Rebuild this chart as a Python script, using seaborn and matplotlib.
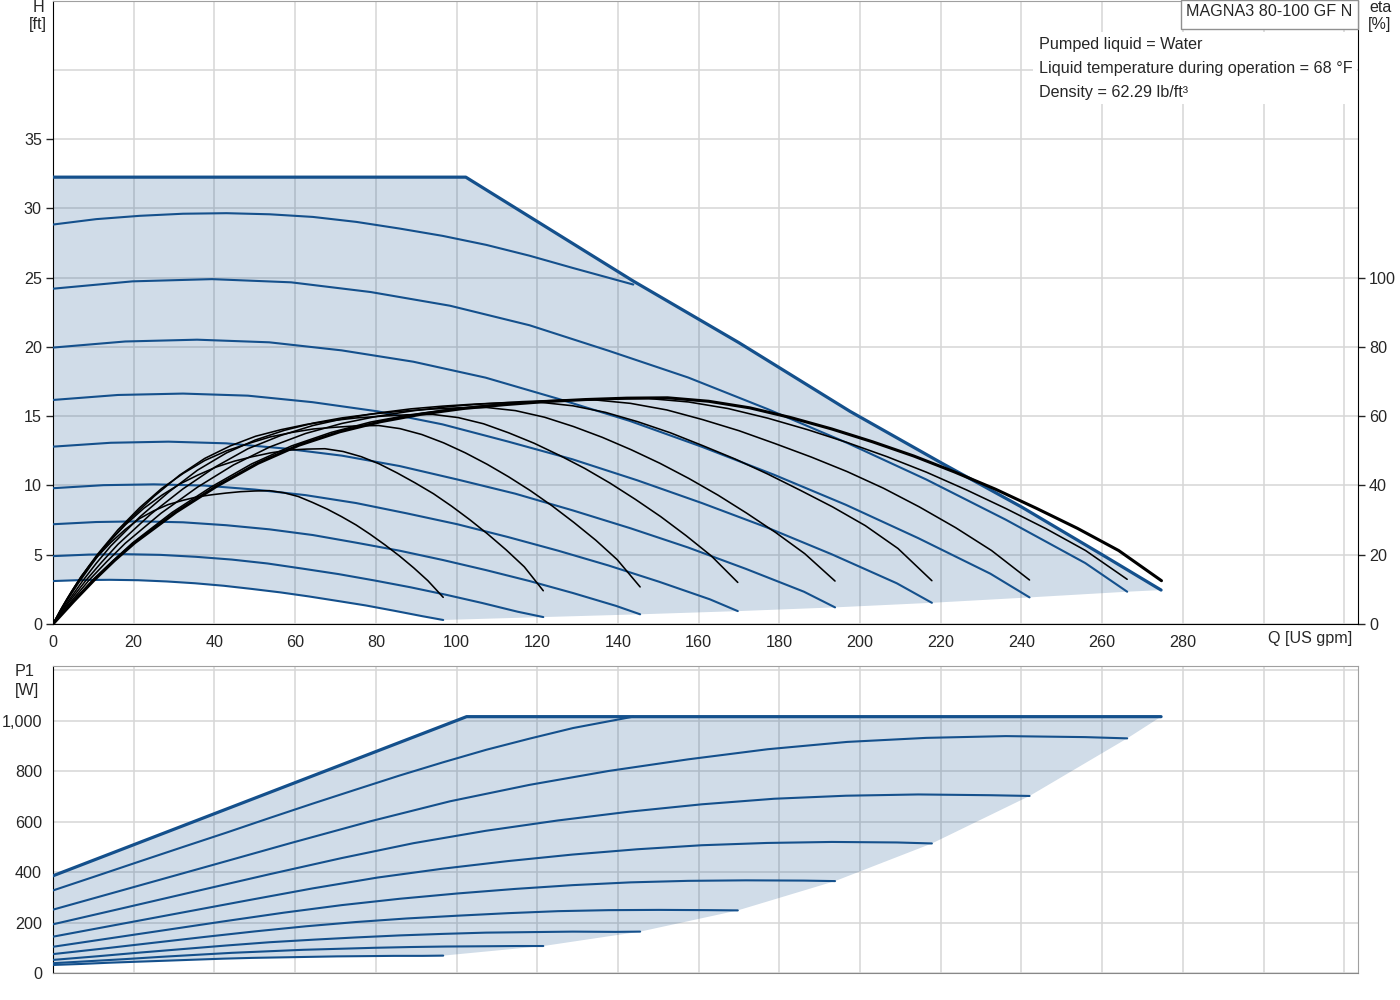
import matplotlib
matplotlib.use("Agg")
import matplotlib.pyplot as plt
from matplotlib.patches import Rectangle
import seaborn as sns

sns.set_style("white")
plt.rcParams["font.family"] = ["Liberation Sans", "DejaVu Sans"]

# ---- data -----------------------------------------------------------------
# speed curves A (highest) .. I (lowest): flow [US gpm], head [ft], power [W]
q_a = [0, 10.7, 21.5, 32.2, 43.0, 53.7, 64.4, 75.2, 85.9, 96.6, 107.4, 118.1, 128.9, 143.8]
h_a = [28.83, 29.22, 29.46, 29.61, 29.65, 29.57, 29.38, 29.02, 28.54, 28.01, 27.36, 26.58, 25.69, 24.5]
p_a = [328, 385, 443, 500, 557, 615, 672, 728, 783, 835, 885, 929, 971, 1016]

q_b = [0, 19.7, 39.4, 59.0, 78.7, 98.4, 118.1, 137.7, 157.4, 177.1, 196.8, 216.4, 236.1, 255.8, 266.2]
h_b = [24.20, 24.73, 24.89, 24.66, 23.96, 22.97, 21.56, 19.72, 17.79, 15.51, 13.07, 10.43, 7.53, 4.40, 2.33]
p_b = [252, 340, 428, 516, 602, 681, 746, 801, 847, 887, 916, 932, 939, 935, 930]

q_c = [0, 17.9, 35.7, 53.6, 71.5, 89.3, 107.2, 125.1, 142.9, 160.8, 178.7, 196.5, 214.4, 232.3, 242.0]
h_c = [19.95, 20.39, 20.52, 20.33, 19.75, 18.93, 17.78, 16.26, 14.66, 12.79, 10.77, 8.60, 6.20, 3.63, 1.92]
p_c = [194, 260, 326, 392, 456, 515, 564, 605, 640, 669, 691, 703, 708, 705, 702]

q_d = [0, 16.1, 32.2, 48.3, 64.3, 80.4, 96.5, 112.6, 128.7, 144.8, 160.8, 176.9, 193.0, 209.1, 217.8]
h_d = [16.17, 16.53, 16.63, 16.48, 16.01, 15.35, 14.41, 13.18, 11.89, 10.37, 8.73, 6.97, 5.03, 2.94, 1.53]
p_d = [145, 193, 241, 289, 336, 379, 414, 444, 470, 491, 507, 516, 520, 518, 514]

q_e = [0, 14.3, 28.6, 42.9, 57.2, 71.6, 85.9, 100.2, 114.5, 128.8, 143.1, 157.4, 171.7, 186.1, 193.8]
h_e = [12.80, 13.08, 13.16, 13.04, 12.67, 12.15, 11.40, 10.43, 9.41, 8.20, 6.91, 5.52, 3.98, 2.33, 1.20]
p_e = [105, 139, 173, 207, 240, 270, 295, 316, 334, 349, 360, 366, 368, 367, 365]

q_f = [0, 12.5, 25.0, 37.6, 50.1, 62.6, 75.1, 87.6, 100.2, 112.7, 125.2, 137.7, 150.2, 162.8, 169.7]
h_f = [9.80, 10.02, 10.08, 9.99, 9.70, 9.30, 8.73, 7.99, 7.20, 6.28, 5.29, 4.22, 3.05, 1.78, 0.93]
p_f = [76, 98, 121, 144, 166, 186, 203, 217, 228, 238, 246, 250, 251, 250, 249]

q_g = [0, 10.7, 21.5, 32.2, 42.9, 53.7, 64.4, 75.1, 85.9, 96.6, 107.3, 118.1, 128.8, 139.5, 145.5]
h_g = [7.20, 7.36, 7.41, 7.34, 7.13, 6.83, 6.42, 5.87, 5.29, 4.62, 3.89, 3.10, 2.24, 1.31, 0.70]
p_g = [53, 67, 82, 96, 110, 123, 133, 142, 150, 156, 161, 163, 165, 164, 165]

q_h = [0, 8.9, 17.7, 26.6, 35.4, 44.3, 53.1, 62.0, 70.8, 79.7, 88.6, 97.4, 106.3, 115.1, 121.5]
h_h = [4.90, 5.01, 5.04, 4.99, 4.85, 4.65, 4.37, 3.99, 3.60, 3.14, 2.65, 2.11, 1.52, 0.89, 0.50]
p_h = [40, 48, 56, 65, 73, 81, 87, 93, 97, 101, 104, 106, 107, 108, 108]

q_i = [0, 7.0, 14.1, 21.1, 28.2, 35.2, 42.3, 49.3, 56.4, 63.4, 70.4, 77.5, 84.5, 91.6, 96.7]
h_i = [3.10, 3.17, 3.19, 3.16, 3.07, 2.94, 2.76, 2.53, 2.28, 1.99, 1.67, 1.34, 0.96, 0.56, 0.29]
p_i = [33, 37, 42, 46, 50, 54, 58, 61, 63, 65, 67, 68, 69, 69, 70]

# max-curve envelopes
q_env_h = [0, 102.3, 143.8, 170, 197.5, 220, 240, 260, 274.6]
h_env = [32.25, 32.25, 24.75, 20.3, 15.35, 11.65, 8.45, 5.0, 2.45]
q_env_p = [0, 102.5, 274.6]
p_env = [386, 1016, 1016]

# efficiency curves [%], lowest speed (1) .. max speed (9)
eq_1 = [0, 1.8, 3.6, 5.4, 7.1, 10.7, 14.3, 17.9, 21.4, 25.0, 28.6, 32.2, 35.7, 39.3, 42.9,
        46.5, 50.0, 53.6, 57.2, 60.8, 64.3, 67.9, 71.5, 75.1, 78.6, 82.2, 85.8, 89.4, 92.9, 96.7]
ee_1 = [0, 3.9, 7.5, 10.8, 13.9, 19.1, 23.5, 27.3, 30.4, 32.7, 34.5, 35.7, 36.7, 37.3, 37.8,
        38.2, 38.4, 38.5, 37.9, 36.8, 35.1, 33.2, 31.0, 28.6, 25.9, 22.9, 19.7, 16.2, 12.5, 7.7]
eq_2 = [0, 2.2, 4.5, 6.7, 9.0, 13.5, 18.0, 22.5, 27.0, 31.4, 35.9, 40.4, 44.9, 49.4, 53.9,
        58.4, 62.9, 67.4, 71.9, 76.4, 80.9, 85.3, 89.8, 94.3, 98.8, 103.3, 107.8, 112.3, 116.8, 121.5]
ee_2 = [0, 4.7, 9.2, 13.2, 16.9, 23.3, 28.7, 33.4, 37.2, 40.4, 43.0, 45.3, 47.0, 48.3, 49.4,
        50.2, 50.5, 50.6, 49.8, 48.3, 46.2, 43.6, 40.7, 37.6, 34.0, 30.1, 25.9, 21.4, 16.5, 9.6]
eq_3 = [0, 2.7, 5.4, 8.1, 10.8, 16.1, 21.5, 26.9, 32.3, 37.6, 43.0, 48.4, 53.8, 59.2, 64.5,
        69.9, 75.3, 80.7, 86.0, 91.4, 96.8, 102.2, 107.6, 112.9, 118.3, 123.7, 129.1, 134.5, 139.8, 145.5]
ee_3 = [0, 5.5, 10.7, 15.4, 19.8, 27.2, 33.6, 39.1, 43.5, 47.2, 50.0, 52.1, 54.0, 55.3, 56.3,
        56.8, 57.2, 57.3, 56.4, 54.7, 52.3, 49.4, 46.1, 42.5, 38.5, 34.1, 29.3, 24.2, 18.6, 10.7]
eq_4 = [0, 3.1, 6.3, 9.4, 12.5, 18.8, 25.1, 31.4, 37.6, 43.9, 50.2, 56.5, 62.7, 69.0, 75.3,
        81.6, 87.8, 94.1, 100.4, 106.7, 112.9, 119.2, 125.5, 131.8, 138.0, 144.3, 150.6, 156.9, 163.1, 169.7]
ee_4 = [0, 6.1, 11.8, 16.9, 21.8, 30.0, 36.9, 43.0, 47.8, 51.4, 54.2, 56.1, 57.6, 58.7, 59.5,
        60.0, 60.4, 60.5, 59.6, 57.8, 55.2, 52.2, 48.7, 44.9, 40.7, 36.0, 31.0, 25.5, 19.7, 12.0]
eq_5 = [0, 3.6, 7.2, 10.7, 14.3, 21.5, 28.7, 35.8, 43.0, 50.1, 57.3, 64.5, 71.6, 78.8, 86.0,
        93.1, 100.3, 107.5, 114.6, 121.8, 129.0, 136.1, 143.3, 150.4, 157.6, 164.8, 171.9, 179.1, 186.3, 193.8]
ee_5 = [0, 6.3, 12.2, 17.5, 22.5, 30.9, 38.1, 44.4, 49.4, 53.1, 55.9, 58.0, 59.5, 60.6, 61.4,
        62.0, 62.4, 62.5, 61.6, 59.7, 57.0, 53.9, 50.3, 46.4, 42.0, 37.2, 32.0, 26.4, 20.3, 12.4]
eq_6 = [0, 4.0, 8.1, 12.1, 16.1, 24.2, 32.2, 40.3, 48.3, 56.4, 64.4, 72.5, 80.5, 88.6, 96.6,
        104.7, 112.7, 120.8, 128.8, 136.9, 144.9, 153.0, 161.0, 169.1, 177.1, 185.2, 193.2, 201.3, 209.4, 217.8]
ee_6 = [0, 6.4, 12.5, 17.9, 23.0, 31.7, 39.0, 45.4, 50.6, 54.4, 57.3, 59.4, 60.9, 62.1, 62.9,
        63.5, 63.9, 64.0, 63.0, 61.1, 58.4, 55.2, 51.5, 47.6, 43.3, 38.6, 33.8, 28.4, 21.8, 12.5]
eq_7 = [0, 4.5, 8.9, 13.4, 17.9, 26.8, 35.8, 44.7, 53.7, 62.6, 71.6, 80.5, 89.5, 98.4, 107.4,
        116.3, 125.2, 134.2, 143.1, 152.1, 161.0, 170.0, 178.9, 187.9, 196.8, 205.8, 214.7, 223.7, 232.6, 242.0]
ee_7 = [0, 6.5, 12.6, 18.1, 23.3, 32.0, 39.5, 45.9, 51.1, 55.0, 57.9, 60.0, 61.6, 62.8, 63.6,
        64.2, 64.6, 64.7, 63.7, 61.8, 59.0, 55.8, 52.1, 48.2, 44.0, 39.2, 33.8, 27.8, 21.2, 12.7]
eq_8 = [0, 4.9, 9.8, 14.8, 19.7, 29.5, 39.4, 49.2, 59.1, 68.9, 78.7, 88.6, 98.4, 108.3, 118.1,
        127.9, 137.8, 147.6, 157.5, 167.3, 177.2, 187.0, 196.8, 206.7, 216.5, 226.4, 236.2, 246.1, 255.9, 266.2]
ee_8 = [0, 6.5, 12.7, 18.2, 23.4, 32.2, 39.7, 46.2, 51.4, 55.3, 58.3, 60.4, 62.0, 63.2, 64.0,
        64.6, 65.0, 65.1, 64.1, 62.2, 59.4, 56.1, 52.4, 48.3, 43.8, 38.7, 33.3, 27.5, 21.2, 12.9]
eq_9 = [0, 5.1, 10.2, 15.2, 20.3, 30.5, 40.6, 50.8, 60.9, 71.1, 81.2, 91.4, 101.6, 111.7, 121.9,
        132.0, 142.2, 152.3, 162.5, 172.7, 182.8, 193.0, 203.1, 213.3, 223.4, 233.6, 243.7, 253.9, 264.1, 274.7]
ee_9 = [0, 6.5, 12.7, 18.3, 23.5, 32.3, 39.8, 46.4, 51.6, 55.5, 58.4, 60.6, 62.2, 63.3, 64.2,
        64.8, 65.2, 65.3, 64.3, 62.4, 59.6, 56.3, 52.6, 48.5, 43.9, 38.9, 33.4, 27.6, 21.2, 12.5]

x_ticks = [0, 20, 40, 60, 80, 100, 120, 140, 160, 180, 200, 220, 240, 260, 280, 300, 320]
x_labels = ["0", "20", "40", "60", "80", "100", "120", "140", "160", "180", "200",
            "220", "240", "260", "280", "", ""]
h_ticks = [0, 5, 10, 15, 20, 25, 30, 35]
eta_ticks = [0, 20, 40, 60, 80, 100]
p_ticks = [0, 200, 400, 600, 800, 1000, 1200]
p_labels = ["0", "200", "400", "600", "800", "1,000", ""]

# ---- styling ---------------------------------------------------------------
BLUE = "#14508c"
GRID = "#d6d6d6"
FS = 11.6
LW_CURVE = 1.5
LW_ENV = 2.3

speed_q = [q_b, q_c, q_d, q_e, q_f, q_g, q_h, q_i]
speed_h = [h_b, h_c, h_d, h_e, h_f, h_g, h_h, h_i]
speed_p = [p_b, p_c, p_d, p_e, p_f, p_g, p_h, p_i]
eta_q = [eq_1, eq_2, eq_3, eq_4, eq_5, eq_6, eq_7, eq_8, eq_9]
eta_v = [ee_1, ee_2, ee_3, ee_4, ee_5, ee_6, ee_7, ee_8, ee_9]

fig = plt.figure(figsize=(14, 10), dpi=100)

# ---- upper panel: head + efficiency ---------------------------------------
ax = fig.add_axes([53 / 1400, 1 - 624 / 1000, 1305 / 1400, 623.5 / 1000])
ax.set_xlim(0, 323.4)
ax.set_ylim(0, 45)
ax.set_axisbelow(True)

# shaded operating range: envelope, then curve end points, then lowest curve
fill_x = q_env_h + [q[-1] for q in speed_q] + q_i[::-1]
fill_y = h_env + [h[-1] for h in speed_h] + h_i[::-1]
ax.fill(fill_x, fill_y, color=BLUE, alpha=0.2, lw=0, zorder=1)

for q, h in zip([q_a] + speed_q, [h_a] + speed_h):
    sns.lineplot(x=q, y=h, ax=ax, color=BLUE, lw=LW_CURVE, sort=False, estimator=None, zorder=3)
sns.lineplot(x=q_env_h, y=h_env, ax=ax, color=BLUE, lw=LW_ENV, sort=False, estimator=None, zorder=4)

ax.set_xticks(x_ticks)
ax.set_xticklabels(x_labels)
ax.set_yticks(h_ticks)
ax.set_yticklabels([str(t) for t in h_ticks])
ax.grid(True, color=GRID, lw=1.1)
ax.axhline(40, color=GRID, lw=1.1, zorder=0.5)
ax.tick_params(direction="out", length=5, width=1, labelsize=FS, pad=3)
ax.set_xlabel("")
ax.set_ylabel("")
for s in ["left", "bottom"]:
    ax.spines[s].set_color("black")
ax.spines["top"].set_color("#a0a0a0")
ax.spines["right"].set_visible(False)

ax2 = ax.twinx()
ax2.set_ylim(0, 180)
for i, (q, e) in enumerate(zip(eta_q, eta_v)):
    lw = 2.2 if i == len(eta_q) - 1 else 1.15
    sns.lineplot(x=q, y=e, ax=ax2, color="black", lw=lw, sort=False, estimator=None)
ax2.set_xlim(0, 323.4)
ax2.set_yticks(eta_ticks)
ax2.set_yticklabels([str(t) for t in eta_ticks])
ax2.tick_params(direction="out", length=5, width=1, labelsize=FS, pad=3)
ax2.set_ylabel("")
for s in ["top", "left", "bottom"]:
    ax2.spines[s].set_visible(False)
ax2.spines["right"].set_color("black")

# ---- lower panel: power -----------------------------------------------------
bx = fig.add_axes([53 / 1400, 1 - 973.3 / 1000, 1305 / 1400, 307.8 / 1000])
bx.set_xlim(0, 323.4)
bx.set_ylim(0, 1218.5)
bx.set_axisbelow(True)

pfill_x = q_env_p + [q[-1] for q in speed_q] + q_i[::-1]
pfill_y = p_env + [p[-1] for p in speed_p] + p_i[::-1]
bx.fill(pfill_x, pfill_y, color=BLUE, alpha=0.2, lw=0, zorder=1)

for q, p in zip([q_a] + speed_q, [p_a] + speed_p):
    sns.lineplot(x=q, y=p, ax=bx, color=BLUE, lw=LW_CURVE, sort=False, estimator=None, zorder=3)
sns.lineplot(x=q_env_p, y=p_env, ax=bx, color=BLUE, lw=LW_ENV, sort=False, estimator=None, zorder=4)

bx.set_xticks(x_ticks)
bx.set_xticklabels([])
bx.set_yticks(p_ticks)
bx.set_yticklabels(p_labels)
bx.grid(True, color=GRID, lw=1.1)
bx.tick_params(axis="y", direction="out", length=5, width=1, labelsize=FS, pad=3)
bx.tick_params(axis="x", length=0)
bx.set_xlabel("")
bx.set_ylabel("")
bx.spines["left"].set_color("black")
bx.spines["bottom"].set_color("#888888")
for s in ["top", "right"]:
    bx.spines[s].set_color("#a0a0a0")

# ---- texts -----------------------------------------------------------------
def ftext(x, y, s, **kw):
    fig.text(x / 1400, 1 - y / 1000, s, fontsize=FS, va="center", **kw)

ftext(38, 8, "H", ha="center")
ftext(38, 25, "[ft]", ha="center")
ftext(1380, 8, "eta", ha="center")
ftext(1380, 25, "[%]", ha="center")
ftext(25, 672, "P1", ha="center")
ftext(27, 690, "[W]", ha="center")
ftext(1310, 639, "Q [US gpm]", ha="center")

fig.patches.append(Rectangle((1181 / 1400, 1 - 29 / 1000), 177 / 1400, 29 / 1000,
                             transform=fig.transFigure, facecolor="white",
                             edgecolor="#909090", lw=1, zorder=5))
ftext(1269, 12, "MAGNA3 80-100 GF N", ha="center", zorder=6)

fig.patches.append(Rectangle((1033 / 1400, 1 - 104 / 1000), 324 / 1400, 72 / 1000,
                             transform=fig.transFigure, facecolor="white",
                             edgecolor="none", zorder=5))
ftext(1039, 44, "Pumped liquid = Water", ha="left", zorder=6)
ftext(1039, 68, "Liquid temperature during operation = 68 \u00b0F", ha="left", zorder=6)
ftext(1039, 92, "Density = 62.29 lb/ft\u00b3", ha="left", zorder=6)

fig.savefig("out.png", dpi=100)
